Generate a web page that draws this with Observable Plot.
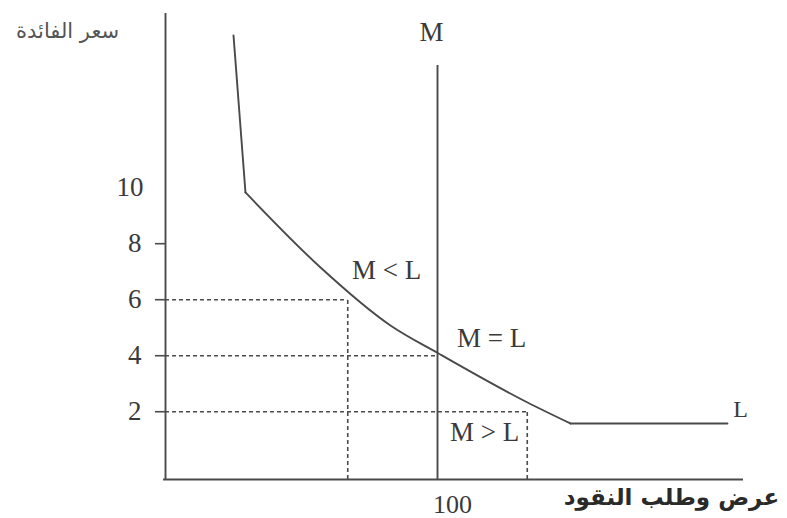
<!DOCTYPE html>
<html>
<head>
<meta charset="utf-8">
<script src="https://cdn.jsdelivr.net/npm/d3@7"></script>
<script src="https://cdn.jsdelivr.net/npm/@observablehq/plot@0.6"></script>
<style>
  html, body { margin: 0; padding: 0; background: #fff; }
  svg { display: block; }
</style>
</head>
<body>
<script>
// ---- data ----
const yTickValues = [2, 4, 6, 8];
const yTopTick = [10];
const xTickValues = [100];
const moneySupply = 100;               // M (vertical)
const demandX = [25, 29.4, 57.0, 82.7, 100.4, 133.1, 148.9, 206.6];
const demandY = [15.44, 9.83, 7.15, 5.08, 4.08, 2.33, 1.58, 1.58];
const rateLevels = [6, 4, 2];
const quantityAtRate = [67, 100, 133];
const supplyTop = 14.36;
const labelText = ["M", "M < L", "M = L", "M > L", "L"];
const labelX = [97.8, 81.3, 119.9, 117.3, 211.4];
const labelY = [15.54, 7.04, 4.61, 1.26, 2.1];
const yTitle = "سعر الفائدة";
const xTitle = "عرض وطلب النقود";

// ---- tables built from the arrays ----
const demand = demandX.map((x, i) => ({x, y: demandY[i]}));
const demandTop = demand.slice(0, 2);
const demandMid = demand.slice(1, 7);
const demandTail = demand.slice(6);
const hDash = rateLevels.map((y, i) => ({y, x2: quantityAtRate[i]}));
const vDash = [{x: quantityAtRate[0], y2: rateLevels[0]}, {x: quantityAtRate[2], y2: rateLevels[2]}];
const labels = labelText.map((t, i) => ({t, x: labelX[i], y: labelY[i], big: t !== "L"}));

const xDomain = [0, 212.5];
const yDomain = [-0.42, 16.22];
const ink = "#4a4a4a";
const serif = "'Liberation Serif', 'DejaVu Serif', serif";
const arabic = "'DejaVu Sans', 'Noto Sans', sans-serif";

const lineOpts = {x: "x", y: "y", stroke: ink, strokeWidth: 1.9};

const chart = Plot.plot({
  width: 787,
  height: 518,
  marginLeft: 165,
  marginRight: 44,
  marginTop: 13,
  marginBottom: 39,
  style: {background: "#fff", color: ink, fontFamily: serif},
  x: {domain: xDomain},
  y: {domain: yDomain},
  marks: [
    // dashed guides
    Plot.ruleY(hDash, {y: "y", x1: 0, x2: "x2", stroke: ink, strokeWidth: 1.6, strokeDasharray: "4,3"}),
    Plot.ruleX(vDash, {x: "x", y1: yDomain[0], y2: "y2", stroke: ink, strokeWidth: 1.6, strokeDasharray: "4,3"}),
    // axes lines
    Plot.ruleX([0], {y1: yDomain[0], y2: yDomain[1], stroke: ink, strokeWidth: 1.9}),
    Plot.ruleY([yDomain[0]], {x1: -0.7, x2: xDomain[1], stroke: ink, strokeWidth: 1.9}),
    // ticks
    Plot.axisY({ticks: yTickValues, tickSize: 10, tickPadding: 14, tickFormat: d => d, fontSize: 27, fontFamily: serif, label: null, stroke: ink, strokeWidth: 1.6, fill: "#3a3a3a"}),
    Plot.axisY({ticks: yTopTick, tickSize: 0, tickPadding: 22, tickFormat: d => d, fontSize: 27, fontFamily: serif, label: null, fill: "#3a3a3a"}),
    Plot.axisX({ticks: xTickValues, tickSize: 0, tickPadding: 15, dx: 15, tickFormat: d => d, fontSize: 26, fontFamily: serif, label: null, fill: "#3a3a3a"}),
    // money supply M
    Plot.ruleX([moneySupply], {y1: yDomain[0], y2: supplyTop, stroke: ink, strokeWidth: 1.9}),
    // money demand L
    Plot.line(demandTop, {...lineOpts, curve: "linear"}),
    Plot.line(demandMid, {...lineOpts, curve: "monotone-x"}),
    Plot.line(demandTail, {...lineOpts, curve: "linear"}),
    // labels
    Plot.text(labels.filter(d => d.big), {x: "x", y: "y", text: "t", fontSize: 27, fontFamily: serif, fill: "#3a3a3a"}),
    Plot.text(labels.filter(d => !d.big), {x: "x", y: "y", text: "t", fontSize: 24, fontFamily: serif, fill: "#3a3a3a"}),
    Plot.text([yTitle], {x: -36, y: 15.6, text: d => d, fontSize: 21, fontFamily: arabic, fill: "#555"}),
    Plot.text([xTitle], {x: 186, y: -1.05, text: d => d, fontSize: 23, fontWeight: "bold", fontFamily: arabic, fill: "#2a2a2a"})
  ]
});
document.body.appendChild(chart);
</script>
</body>
</html>
